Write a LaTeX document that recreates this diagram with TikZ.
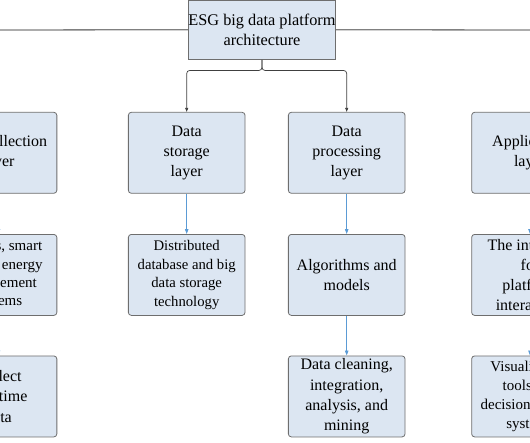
\documentclass[tikz,border=0pt]{standalone}
\usepackage{fontspec}
\setmainfont{Liberation Serif}
\usetikzlibrary{arrows.meta}
\definecolor{boxfill}{HTML}{DCE6F2}
\definecolor{boxline}{HTML}{6E6E6E}
\definecolor{bluearrow}{HTML}{5B9BD5}

\begin{document}
\begin{tikzpicture}[x=1pt,y=-1pt,
  headbox/.style={draw=boxline, fill=boxfill, line width=0.8pt, minimum width=147.4pt,
    minimum height=59.3pt, inner sep=0pt, align=center, font=\fontsize{16.3}{20}\selectfont},
  layerbox/.style={draw=boxline, fill=boxfill, line width=0.8pt, rounded corners=3pt,
    minimum width=116.7pt, minimum height=81pt, inner sep=0pt, align=center,
    font=\fontsize{16}{20.3}\selectfont},
  smalltext/.style={font=\fontsize{15}{18.3}\selectfont},
  darrow/.style={draw=black!75, line width=0.7pt, rounded corners=3pt, -{Triangle[length=4pt,width=3pt]}},
  barrow/.style={draw=bluearrow, line width=0.8pt, -{Triangle[length=5pt,width=3.5pt]}}]
  \path[use as bounding box, clip] (0,0) rectangle (530,442);
  % platform box and its side line
  \node[headbox] (top) at (262,29.7) {ESG big data platform\\architecture};
  \coordinate (lineL) at (0,30);
  \coordinate (lineR) at (530,30);
  \draw[gray, line width=1.3pt] (lineL) -- (top.west) (top.east) -- (lineR);
  % layers
  \node[layerbox] (collect) at (-1.5,152.8) {Data collection\\layer};
  \node[layerbox] (storage) at (186.7,152.8) {Data\\storage\\layer};
  \node[layerbox] (process) at (346.7,152.8) {Data\\processing\\layer};
  \node[layerbox] (app) at (530,152.8) {Application\\layer};
  % second row
  \node[layerbox, smalltext] (sensors) at (-1.5,274.9) {Sensors, smart\\meters, energy\\management\\systems};
  \node[layerbox, font=\fontsize{14.7}{18.5}\selectfont] (distrib) at (186.7,274.9) {Distributed\\database and big\\data storage\\technology};
  \node[layerbox] (algo) at (346.7,274.9) {Algorithms and\\models};
  \node[layerbox] (iface) at (530,274.9) {The interface\\for\\platform\\interaction};
  % third row
  \node[layerbox] (realtime) at (-1.5,396.4) {Collect\\real-time\\data};
  \node[layerbox] (cleaning) at (346.7,396.4) {Data cleaning,\\integration,\\analysis, and\\mining};
  \node[layerbox, font=\fontsize{15}{19}\selectfont] (visual) at (530,396.4) {Visualization\\tools and\\decision support\\systems};
  % connectors
  \draw[darrow] (top.south) -- ++(0,10.7) -| (storage.north);
  \draw[darrow] (top.south) -- ++(0,10.7) -| (process.north);
  \foreach \a/\b in {collect/sensors, sensors/realtime, storage/distrib, process/algo,
    algo/cleaning, app/iface, iface/visual}
    \draw[barrow] (\a) -- (\b);
\end{tikzpicture}
\end{document}
